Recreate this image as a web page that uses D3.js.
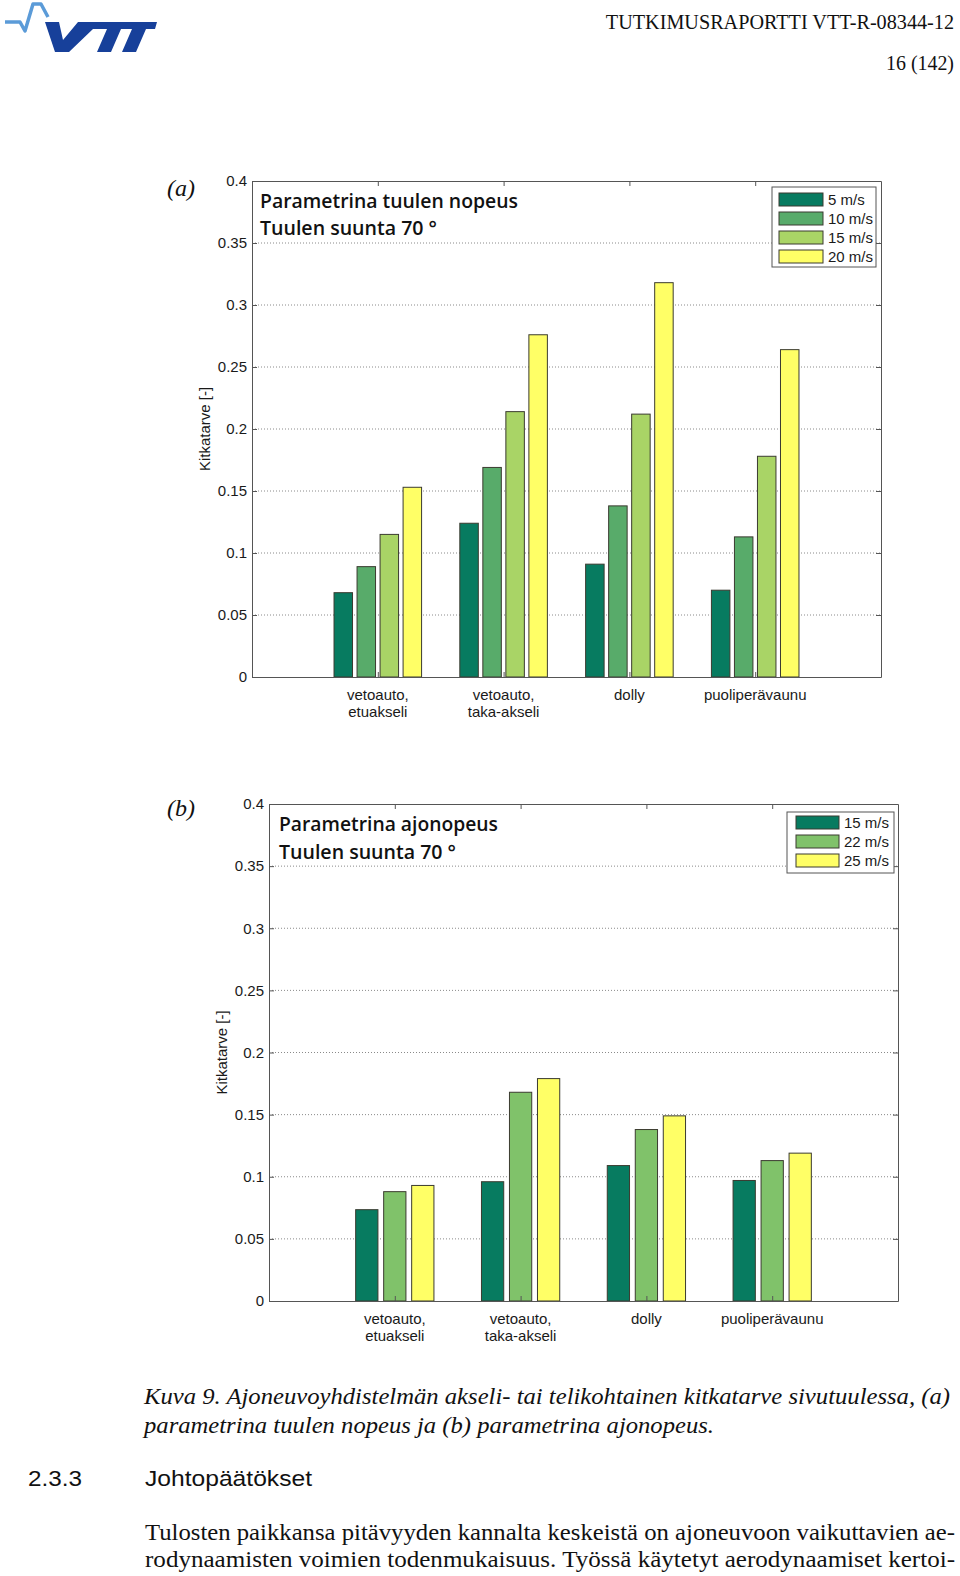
<!DOCTYPE html>
<html><head><meta charset="utf-8">
<script src="https://cdn.jsdelivr.net/npm/d3@7"></script>
<style>body{margin:0;background:#fff} svg{display:block}</style>
</head><body>
<svg id="c" width="960" height="1576"></svg>
<script>
// ---------- data ----------
const categories = ["vetoauto,\netuakseli", "vetoauto,\ntaka-akseli", "dolly", "puoliperävaunu"];
const yTickValues = [0, 0.05, 0.1, 0.15, 0.2, 0.25, 0.3, 0.35, 0.4];
const yTickLabels = ["0", "0.05", "0.1", "0.15", "0.2", "0.25", "0.3", "0.35", "0.4"];

// (a) parameter: wind speed
const seriesA = ["5 m/s", "10 m/s", "15 m/s", "20 m/s"];
const a5  = [0.068, 0.124, 0.091, 0.070];
const a10 = [0.089, 0.169, 0.138, 0.113];
const a15 = [0.115, 0.214, 0.212, 0.178];
const a20 = [0.153, 0.276, 0.318, 0.264];

// (b) parameter: driving speed
const seriesB = ["15 m/s", "22 m/s", "25 m/s"];
const b15 = [0.0735, 0.096, 0.109, 0.097];
const b22 = [0.088, 0.168, 0.138, 0.113];
const b25 = [0.093, 0.179, 0.149, 0.119];

const yLabel = "Kitkatarve [-]";

// ---------- drawing ----------
const svg = d3.select("#c");
const SANS = "Liberation Sans, Arial, sans-serif";
const SERIF = "Liberation Serif, Times New Roman, serif";

function drawPanel(cfg) {
  const g = svg.append("g");
  const x = d3.scaleLinear().domain([0, 5]).range([cfg.left, cfg.right]);
  const y = d3.scaleLinear().domain([0, 0.4]).range([cfg.bottom, cfg.top]);

  // grid
  g.append("g").selectAll("line")
    .data(yTickValues.filter(v => v > 0 && v < 0.4))
    .join("line")
    .attr("x1", cfg.left).attr("x2", cfg.right)
    .attr("y1", d => y(d)).attr("y2", d => y(d))
    .attr("stroke", "#8a8a8a").attr("stroke-width", 1)
    .attr("stroke-dasharray", "1,2");

  // bars
  const n = cfg.series.length;
  cfg.series.forEach((vals, si) => {
    const off = (si - (n - 1) / 2) * cfg.step;
    g.append("g").selectAll("rect")
      .data(vals)
      .join("rect")
      .attr("x", (d, i) => x(i + 1 + off - cfg.width / 2))
      .attr("width", x(cfg.width) - x(0))
      .attr("y", d => y(d))
      .attr("height", d => y(0) - y(d))
      .attr("fill", cfg.colors[si])
      .attr("stroke", "#3b3b30").attr("stroke-width", 1);
  });

  // axes
  const fmt = (d) => yTickLabels[yTickValues.indexOf(d)];
  const axL = g.append("g").attr("transform", `translate(${cfg.left},0)`)
    .call(d3.axisLeft(y).tickValues(yTickValues).tickFormat(fmt).tickSizeInner(-5).tickSizeOuter(0).tickPadding(5));
  const axR = g.append("g").attr("transform", `translate(${cfg.right},0)`)
    .call(d3.axisRight(y).tickValues(yTickValues).tickFormat("").tickSizeInner(-5).tickSizeOuter(0));
  const axT = g.append("g").attr("transform", `translate(0,${cfg.top})`)
    .call(d3.axisTop(x).tickValues([1, 2, 3, 4]).tickFormat("").tickSizeInner(-5).tickSizeOuter(0));
  const axB = g.append("g").attr("transform", `translate(0,${cfg.bottom})`)
    .call(d3.axisBottom(x).tickValues([1, 2, 3, 4]).tickFormat("").tickSizeInner(-5).tickSizeOuter(0));
  [axL, axR, axT, axB].forEach(a => {
    a.select(".domain").attr("stroke", "#555");
    a.selectAll(".tick line").attr("stroke", "#555");
  });
  axL.selectAll("text").attr("font-family", SANS).attr("font-size", 15).attr("fill", "#1a1a1a");

  // category labels
  const cl = g.append("g");
  categories.forEach((c, i) => {
    const t = cl.append("text").attr("x", x(i + 1)).attr("y", cfg.bottom + 23)
      .attr("text-anchor", "middle").attr("font-family", SANS).attr("font-size", 15).attr("fill", "#1a1a1a");
    c.split("\n").forEach((line, li) => {
      t.append("tspan").attr("x", x(i + 1)).attr("dy", li === 0 ? 0 : 17).text(line);
    });
  });

  // y label
  g.append("text").attr("transform", `translate(${cfg.yLabelX},${(cfg.top + cfg.bottom) / 2}) rotate(-90)`)
    .attr("text-anchor", "middle").attr("font-family", SANS).attr("font-size", 15).attr("fill", "#1a1a1a")
    .text(yLabel);

  // annotation
  cfg.note.forEach((line, li) => {
    g.append("text").attr("x", cfg.noteX).attr("y", cfg.noteY[li])
      .attr("font-family", "Open Sans, Noto Sans, sans-serif").attr("font-weight", 600)
      .attr("font-size", 19.5).attr("fill", "#111")
      .attr("textLength", cfg.noteW[li]).attr("lengthAdjust", "spacingAndGlyphs")
      .text(line);
  });

  // legend
  const L = cfg.legend;
  g.append("rect").attr("x", L.x).attr("y", L.y).attr("width", L.w).attr("height", L.h)
    .attr("fill", "#fff").attr("stroke", "#555").attr("stroke-width", 1);
  cfg.names.forEach((nm, i) => {
    g.append("rect").attr("x", L.sx).attr("y", L.sy + i * L.pitch).attr("width", L.sw).attr("height", 13)
      .attr("fill", cfg.colors[i]).attr("stroke", "#3b3b30").attr("stroke-width", 1);
    g.append("text").attr("x", L.tx).attr("y", L.sy + i * L.pitch + 12)
      .attr("font-family", SANS).attr("font-size", 15).attr("fill", "#1a1a1a").text(nm);
  });

  // panel label
  g.append("text").attr("x", 167).attr("y", cfg.panelY)
    .attr("font-family", SERIF).attr("font-style", "italic").attr("font-size", 24).attr("fill", "#111")
    .text(cfg.panel);
}

drawPanel({
  left: 252, right: 881, top: 181, bottom: 677,
  series: [a5, a10, a15, a20], names: seriesA,
  colors: ["#077b60", "#58ab6a", "#a9d466", "#ffff66"],
  step: 0.183, width: 0.147,
  yLabelX: 210,
  note: ["Parametrina tuulen nopeus", "Tuulen suunta 70 °"], noteX: 260, noteY: [208, 235], noteW: [258, 177],
  legend: { x: 772, y: 187, w: 104, h: 80, sx: 779, sy: 193, sw: 44, pitch: 19, tx: 828 },
  panel: "(a)", panelY: 196
});

drawPanel({
  left: 269, right: 898, top: 804, bottom: 1301,
  series: [b15, b22, b25], names: seriesB,
  colors: ["#077b60", "#80c26a", "#ffff66"],
  step: 0.2226, width: 0.177,
  yLabelX: 227,
  note: ["Parametrina ajonopeus", "Tuulen suunta 70 °"], noteX: 279, noteY: [831, 859], noteW: [219, 177],
  legend: { x: 787, y: 812, w: 107, h: 61, sx: 796, sy: 816, sw: 43, pitch: 19, tx: 844 },
  panel: "(b)", panelY: 816
});

// ---------- page decoration ----------
// VTT logo
const logo = svg.append("g");
logo.append("polyline")
  .attr("points", "5,22 20,22 25,31 33,4 41,4 48,17")
  .attr("fill", "none").attr("stroke", "#5b9bd8").attr("stroke-width", 3.5).attr("stroke-linejoin", "round");
logo.append("path")
  .attr("d", "M45,22 L59,22 L63,40 L78,22 L157,22 L155,29 L121,29 L111,52 L97,52 L107,29 L146,29 L136,52 L122,52 L132,29 L93,29 L69,52 L55,52 Z")
  .attr("fill", "#17409a");

svg.append("text").attr("x", 954).attr("y", 29).attr("text-anchor", "end")
  .attr("font-family", SERIF).attr("font-size", 20.2).attr("fill", "#111")
  .text("TUTKIMUSRAPORTTI VTT-R-08344-12");
svg.append("text").attr("x", 954).attr("y", 70).attr("text-anchor", "end")
  .attr("font-family", SERIF).attr("font-size", 20).attr("fill", "#111")
  .attr("textLength", 68).attr("lengthAdjust", "spacingAndGlyphs")
  .text("16 (142)");

// caption
svg.append("text").attr("x", 144).attr("y", 1404)
  .attr("font-family", SERIF).attr("font-style", "italic").attr("font-size", 23).attr("fill", "#111")
  .attr("textLength", 806).attr("lengthAdjust", "spacingAndGlyphs")
  .text("Kuva 9. Ajoneuvoyhdistelmän akseli- tai telikohtainen kitkatarve sivutuulessa, (a)");
svg.append("text").attr("x", 144).attr("y", 1433)
  .attr("font-family", SERIF).attr("font-style", "italic").attr("font-size", 23).attr("fill", "#111")
  .attr("textLength", 570).attr("lengthAdjust", "spacingAndGlyphs")
  .text("parametrina tuulen nopeus ja (b) parametrina ajonopeus.");

// section heading
svg.append("text").attr("x", 28).attr("y", 1486)
  .attr("font-family", SANS).attr("font-size", 22).attr("fill", "#111")
  .attr("textLength", 54).attr("lengthAdjust", "spacingAndGlyphs").text("2.3.3");
svg.append("text").attr("x", 145).attr("y", 1486)
  .attr("font-family", SANS).attr("font-size", 22).attr("fill", "#111")
  .attr("textLength", 167).attr("lengthAdjust", "spacingAndGlyphs").text("Johtopäätökset");

// body text
svg.append("text").attr("x", 145).attr("y", 1540)
  .attr("font-family", SERIF).attr("font-size", 23).attr("fill", "#111")
  .attr("textLength", 810).attr("lengthAdjust", "spacingAndGlyphs")
  .text("Tulosten paikkansa pitävyyden kannalta keskeistä on ajoneuvoon vaikuttavien ae-");
svg.append("text").attr("x", 145).attr("y", 1567)
  .attr("font-family", SERIF).attr("font-size", 23).attr("fill", "#111")
  .attr("textLength", 810).attr("lengthAdjust", "spacingAndGlyphs")
  .text("rodynaamisten voimien todenmukaisuus. Työssä käytetyt aerodynaamiset kertoi-");
</script>
</body></html>
